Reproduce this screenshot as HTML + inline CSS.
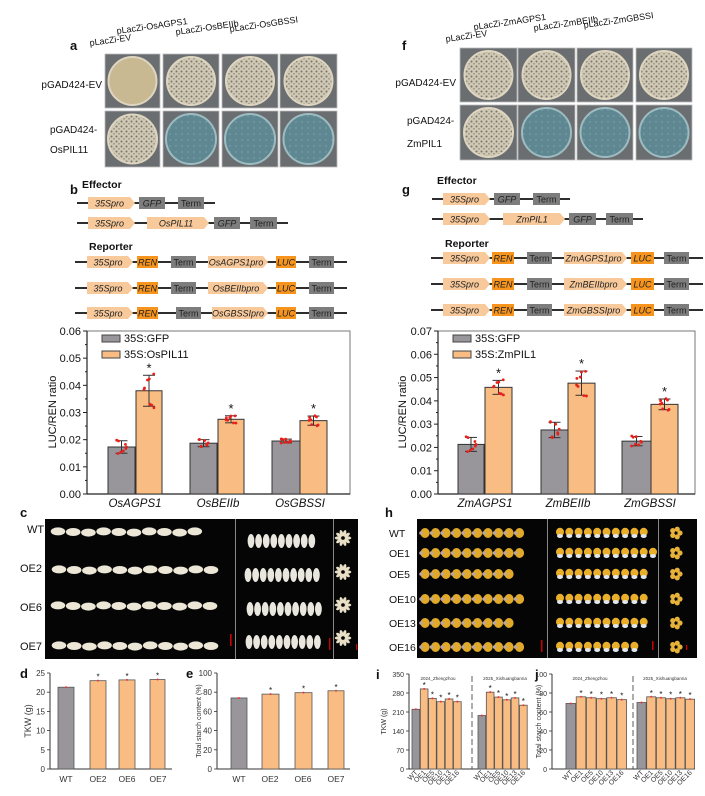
<!DOCTYPE html>
<html><head><meta charset="utf-8"><style>
html,body{margin:0;padding:0;background:#fff;}
svg{display:block;font-family:"Liberation Sans",Arial,sans-serif;}
</style></head><body>
<svg id="s" width="705" height="796" viewBox="0 0 705 796" xmlns="http://www.w3.org/2000/svg">
<defs>
<pattern id="spk" width="5" height="5" patternUnits="userSpaceOnUse">
<rect width="5" height="5" fill="#cfc8b4"/><circle cx="1.5" cy="1.5" r="1" fill="#7a7468"/><circle cx="4" cy="3.8" r="0.8" fill="#8d877a"/></pattern>
<pattern id="spk2" width="5" height="5" patternUnits="userSpaceOnUse">
<rect width="5" height="5" fill="#d4cdb8"/><circle cx="1.5" cy="1.5" r="1.1" fill="#6e685c"/><circle cx="4" cy="3.8" r="0.9" fill="#827c70"/></pattern>
<pattern id="blu" width="6" height="6" patternUnits="userSpaceOnUse">
<rect width="6" height="6" fill="#5f8791"/><circle cx="2" cy="2" r="1" fill="#6f98a2"/></pattern>
</defs>
<g id="g"></g>
</svg>
<script>
const G=document.getElementById('g');const NS='http://www.w3.org/2000/svg';
function el(t,a,txt){const e=document.createElementNS(NS,t);for(const k in a)e.setAttribute(k,a[k]);if(txt!==undefined)e.textContent=txt;G.appendChild(e);return e;}
function T(x,y,s,size,opt={}){return el('text',Object.assign({x:x,y:y,'font-size':size,fill:'#111'},opt),s);}
function L(x1,y1,x2,y2,c='#111',w=1,extra={}){return el('line',Object.assign({x1,y1,x2,y2,stroke:c,'stroke-width':w},extra));}
function R(x,y,w,h,f,extra={}){return el('rect',Object.assign({x,y,width:w,height:h,fill:f},extra));}

// panel labels
[['a',70,50],['b',70,194],['c',20,517],['d',20,678],['e',186,678],['f',402,50],['g',402,194],['h',385,517],['i',376,679],['j',535,679]].forEach(p=>T(p[1],p[2],p[0],13,{'font-weight':'bold'}));

// plates
function plates(cols,rows,blue){
 rows.forEach((r,ri)=>cols.forEach((c,ci)=>{
  const w=c[1]-c[0],h=r[1]-r[0];R(c[0],r[0],w,h,'#6b6e70',{stroke:'#bbb','stroke-width':0.8});
  const cx=(c[0]+c[1])/2,cy=(r[0]+r[1])/2,rad=Math.min(w,h)/2-3;
  let f='url(#spk)';if(ri==1&&ci>0)f='url(#blu)';
  if(blue&&ri==0&&ci==0)f='#c9b993';
  el('circle',{cx,cy,r:rad,fill:f,stroke:(ri==1&&ci>0)?'#9dbcc2':'#ddd5c0','stroke-width':2});
 }));
}
plates([[105,160],[163,219],[222,278],[280,337]],[[54,108],[111,167]],true);
plates([[460,517],[518,575],[577,633],[636,692]],[[48,102],[105,160]],false);
// column labels
function rot(x,y,s,a=-8,size=9){T(x,y,s,size,{transform:`rotate(${a} ${x} ${y})`});}
rot(90,46,'pLacZi-EV');rot(117,34,'pLacZi-OsAGPS1');rot(176,35,'pLacZi-OsBEIIb');rot(230,32,'pLacZi-OsGBSSI');
rot(446,42,'pLacZi-EV');rot(474,30,'pLacZi-ZmAGPS1');rot(534,31,'pLacZi-ZmBEIIb');rot(584,28,'pLacZi-ZmGBSSI');
T(102,88,'pGAD424-EV',10,{'text-anchor':'end'});T(50,133,'pGAD424-',10);T(50,153,'OsPIL11',10);
T(456,86,'pGAD424-EV',10,{'text-anchor':'end'});T(407,124,'pGAD424-',10);T(407,147,'ZmPIL1',10);

// constructs
function box(x1,x2,y,type,txt){
 const h=12,t=y-h/2;
 if(type=='a'){el('polygon',{points:`${x1},${t} ${x2-5},${t} ${x2},${y} ${x2-5},${t+h} ${x1},${t+h}`,fill:'#f8c99a'});}
 else R(x1,t,x2-x1,h,type=='o'?'#f7941d':'#7d7d7d');
 T((x1+x2)/2-(type=='a'?2:0),y+3.5,txt,9,{'text-anchor':'middle','font-style':txt=='Term'?'normal':'italic',fill:'#222'});
}
function constructs(o){
 T(o.ex,o.ey,'Effector',10.5,{'font-weight':'bold'});T(o.rx,o.ry,'Reporter',10.5,{'font-weight':'bold'});
 o.rows.forEach(r=>{L(r.l1,r.y,r.l2,r.y,'#111',1.8);r.b.forEach(b=>box(b[0],b[1],r.y,b[2],b[3]));});
}
constructs({ex:82,ey:188,rx:89,ry:250,rows:[
 {y:203,l1:77,l2:215,b:[[88,135,'a','35Spro'],[139,165,'g','GFP'],[178,204,'g','Term']]},
 {y:223,l1:77,l2:288,b:[[88,135,'a','35Spro'],[147,209,'a','OsPIL11'],[214,240,'g','GFP'],[250,277,'g','Term']]},
 {y:262,l1:75,l2:347,b:[[87,133,'a','35Spro'],[137,158,'o','REN'],[171,196,'g','Term'],[208,268,'a','OsAGPS1pro'],[276,296,'o','LUC'],[309,334,'g','Term']]},
 {y:288,l1:75,l2:347,b:[[87,133,'a','35Spro'],[137,158,'o','REN'],[171,196,'g','Term'],[208,268,'a','OsBEIIbpro'],[276,296,'o','LUC'],[309,334,'g','Term']]},
 {y:313,l1:75,l2:347,b:[[87,133,'a','35Spro'],[137,158,'o','REN'],[176,201,'g','Term'],[212,268,'a','OsGBSSIpro'],[276,296,'o','LUC'],[309,334,'g','Term']]}]});
constructs({ex:437,ey:184,rx:445,ry:247,rows:[
 {y:199,l1:432,l2:570,b:[[443,490,'a','35Spro'],[494,520,'g','GFP'],[533,560,'g','Term']]},
 {y:219,l1:432,l2:643,b:[[443,490,'a','35Spro'],[503,565,'a','ZmPIL1'],[569,596,'g','GFP'],[606,633,'g','Term']]},
 {y:258,l1:431,l2:703,b:[[443,490,'a','35Spro'],[492,514,'o','REN'],[527,552,'g','Term'],[564,627,'a','ZmAGPS1pro'],[631,654,'o','LUC'],[664,689,'g','Term']]},
 {y:284,l1:431,l2:703,b:[[443,490,'a','35Spro'],[492,514,'o','REN'],[527,552,'g','Term'],[564,627,'a','ZmBEIIbpro'],[631,654,'o','LUC'],[664,689,'g','Term']]},
 {y:310,l1:431,l2:703,b:[[443,490,'a','35Spro'],[492,514,'o','REN'],[527,552,'g','Term'],[564,627,'a','ZmGBSSIpro'],[631,654,'o','LUC'],[664,689,'g','Term']]}]});

// LUC charts
const GR='#98969b',OR='#f9bd83';
function luc(o){
 const y0=494,top=331,sc=(y0-top)/o.max;
 R(o.x0,top,o.x1-o.x0,y0-top,'none',{stroke:'#777','stroke-width':1});
 L(o.x0,top,o.x0,y0,'#222',1.2);L(o.x0,y0,o.x1,y0,'#222',1.2);
 for(let v=0;v<=o.max+1e-9;v+=0.01){const y=y0-v*sc;L(o.x0-4,y,o.x0,y,'#222',1);T(o.x0-6,y+4,v.toFixed(2),11,{'text-anchor':'end'});
  if(v+0.005<=o.max){L(o.x0-2,y-0.005*sc,o.x0,y-0.005*sc,'#222',1);}}
 T(o.yl,412,'LUC/REN ratio',11,{'text-anchor':'middle',transform:`rotate(-90 ${o.yl} 412)`});
 R(o.x0+15,335,18,7,GR,{stroke:'#444'});T(o.x0+37,342,'35S:GFP',11);
 R(o.x0+15,351,18,7,OR,{stroke:'#444'});T(o.x0+37,358,o.leg,11);
 o.bars.forEach((b,i)=>{
  const y=y0-b[2]*sc;R(b[0],y,b[1]-b[0],y0-y,i%2?OR:GR,{stroke:'#333','stroke-width':1});
  const cx=(b[0]+b[1])/2,e=b[3]*sc;L(cx,y-e,cx,y+e,'#333',1);L(cx-6,y-e,cx+6,y-e,'#333',1);L(cx-6,y+e,cx+6,y+e,'#333',1);
  for(let k=0;k<8;k++){const dy=(Math.sin(k*2.3+i)*e*1.1),dx=(Math.cos(k*1.7+i)*5);el('circle',{cx:cx+dx,cy:y+dy,r:1.4,fill:'#e8201a'});}
  if(i%2)T(cx,y-e-3,'*',13,{'text-anchor':'middle'});
 });
 o.labels.forEach(l=>T(l[0],507,l[1],11.5,{'text-anchor':'middle','font-style':'italic'}));
}
luc({x0:87,x1:350,max:0.06,yl:56,leg:'35S:OsPIL11',bars:[[108,135,0.0173,0.0023],[136,162,0.038,0.0057],[190,217,0.0187,0.0013],[218,244,0.0275,0.0013],[272,300,0.0195,0.0007],[300,327,0.027,0.0017]],labels:[[135,'OsAGPS1'],[218,'OsBEIIb'],[300,'OsGBSSI']]});
luc({x0:438,x1:695,max:0.07,yl:406,leg:'35S:ZmPIL1',bars:[[458,484,0.0213,0.003],[485,512,0.0458,0.003],[541,568,0.0275,0.0033],[568,595,0.0476,0.0052],[622,651,0.0227,0.002],[651,678,0.0385,0.0023]],labels:[[485,'ZmAGPS1'],[568,'ZmBEIIb'],[650,'ZmGBSSI']]});

// photos c
R(45,519,190,140,'#050505');R(236,519,97,140,'#050505');R(334,519,24,140,'#050505');
L(235.5,519,235.5,659,'#888',1);L(333.5,519,333.5,659,'#888',1);
[['WT',533],['OE2',572],['OE6',611],['OE7',650]].forEach((r,i)=>T(i?20:27,r[1],r[0],11));
[[532,10,58],[570,11,59],[606,11,58],[646,11,59]].forEach(r=>{for(let k=0;k<r[1];k++)el('ellipse',{cx:r[2]+k*15.2,cy:r[0]+(k%3-1)*0.6,rx:7.3,ry:4,fill:'#ece6d6'});});
[[541,9,251],[575,10,248],[609,10,250],[642,10,249]].forEach(r=>{for(let k=0;k<r[1];k++)el('ellipse',{cx:r[2]+k*7.6,cy:r[0],rx:3.4,ry:7,fill:'#e9e6de'});});
[538,572,605,638].forEach(y=>{for(let k=0;k<10;k++){const a=k*Math.PI/5;el('ellipse',{cx:343+Math.cos(a)*5,cy:y+Math.sin(a)*5,rx:3.3,ry:1.6,fill:'#e8dfc6',transform:`rotate(${a*180/Math.PI} ${343+Math.cos(a)*5} ${y+Math.sin(a)*5})`});}});
R(230,634,1.6,12,'#c00');R(329,638,1.4,12,'#c00');R(356,644,1.2,6,'#c00');

// photos h
R(417,519,130,139,'#050505');R(548,519,110,139,'#050505');R(659,519,38,139,'#050505');
L(547.5,519,547.5,658,'#888',1);L(658.5,519,658.5,658,'#888',1);
const hr=[['WT',533],['OE1',553],['OE5',574],['OE10',599],['OE13',623],['OE16',647]];
hr.forEach(r=>T(389,r[1]+4,r[0],10.5));
const hn=[[10,10],[10,11],[9,10],[10,10],[9,10],[10,9]];
hr.forEach((r,i)=>{for(let k=0;k<hn[i][0];k++){el('ellipse',{cx:425+k*10.5,cy:r[1],rx:4.6,ry:5,fill:'#e0a92a'});el('circle',{cx:421+k*10.5,cy:r[1],r:1.8,fill:'#b9a6a8'});}
 for(let k=0;k<hn[i][1];k++){el('ellipse',{cx:560+k*9.3,cy:r[1]-1,rx:4,ry:4.2,fill:'#e9ae2a'});el('ellipse',{cx:560+k*9.3,cy:r[1]+3,rx:3,ry:2,fill:'#dfe6ee'});}
 for(let k=0;k<5;k++){const a=k*Math.PI*2/5;el('circle',{cx:676+Math.cos(a)*4,cy:r[1]+Math.sin(a)*4,r:2.6,fill:'#e6b23a'});}
});
R(541,640,1.5,12,'#c00');R(652,641,1.5,9,'#c00');R(686,645,1.3,5,'#c00');

// small bar charts
function small(o){
 const sc=(o.y0-o.top)/o.max;
 L(o.x0,o.top,o.x0,o.y0,'#333',1);L(o.x0,o.y0,o.x1,o.y0,'#333',1);
 o.ticks.forEach(v=>{const y=o.y0-v*sc;L(o.x0-3,y,o.x0,y,'#333',0.8);T(o.x0-5,y+3,String(v),o.tf,{'text-anchor':'end',fill:'#333'});});
 T(o.yl,(o.top+o.y0)/2,o.ylab,o.yf,{'text-anchor':'middle',transform:`rotate(-90 ${o.yl} ${(o.top+o.y0)/2})`,fill:'#333'});
 o.bars.forEach((b,i)=>{const y=o.y0-b[2]*sc;R(b[0],y,b[1]-b[0],o.y0-y,b[3]?OR:GR,{stroke:'#555','stroke-width':0.8});
  if(b[4])T((b[0]+b[1])/2,y-1,'*',8,{'text-anchor':'middle'});
  el('circle',{cx:(b[0]+b[1])/2,cy:y,r:1,fill:'#e33'});});
}
small({x0:50,x1:172,y0:769,top:673,max:25,ticks:[0,5,10,15,20,25],tf:8,yl:31,ylab:'TKW (g)',yf:9,
 bars:[[58,74,21.3,0],[90,106,23,1,1],[119,135,23.2,1,1],[150,165,23.3,1,1]]});
[['WT',66],['OE2',98],['OE6',127],['OE7',158]].forEach(l=>T(l[1],782,l[0],8.5,{'text-anchor':'middle',fill:'#333'}));
small({x0:217,x1:350,y0:769,top:673,max:100,ticks:[0,20,40,60,80,100],tf:8,yl:201,ylab:'Total starch content (%)',yf:7,
 bars:[[231,247,74,0],[262,279,78,1,1],[295,312,79.5,1,1],[328,344,81.5,1,1]]});
[['WT',239],['OE2',270],['OE6',303],['OE7',336]].forEach(l=>T(l[1],782,l[0],8.5,{'text-anchor':'middle',fill:'#333'}));

const lab6=['WT','OE1','OE5','OE10','OE13','OE16'];
function grp(xs,w,vals){return vals.map((v,i)=>[xs+i*w,xs+i*w+w-0.6,v,i>0,i>0]);}
small({x0:409,x1:530,y0:769,top:674,max:350,ticks:[0,70,140,210,280,350],tf:7,yl:386,ylab:'TKW (g)',yf:7,
 bars:grp(412,8.3,[220,295,260,248,258,248]).concat(grp(478,8.3,[197,283,265,255,262,235]))});
small({x0:552,x1:695,y0:769,top:674,max:100,ticks:[0,20,40,60,80,100],tf:7,yl:541,ylab:'Total starch content (%)',yf:7,
 bars:grp(566,10.2,[69,76,75,74,75,73]).concat(grp(637,9.7,[70,76,75,74,75,73.5]))});
L(472,676,472,769,'#333',0.8,{'stroke-dasharray':'6,3'});L(633,676,633,769,'#333',0.8,{'stroke-dasharray':'6,3'});
T(438,680,'2024_Zhengzhou',4.5,{'text-anchor':'middle',fill:'#333'});T(505,680,'2025_Xishuangbanna',4.5,{'text-anchor':'middle',fill:'#333'});
T(590,680,'2024_Zhengzhou',4.5,{'text-anchor':'middle',fill:'#333'});T(665,680,'2025_Xishuangbanna',4.5,{'text-anchor':'middle',fill:'#333'});
function xl(start,w){lab6.forEach((s,i)=>{const x=start+i*w+w/2+2,y=773;T(x,y,s,7,{'text-anchor':'end',transform:`rotate(-45 ${x} ${y})`,fill:'#333'});});}
xl(412,8.3);xl(478,8.3);xl(566,10.2);xl(637,9.7);
</script>
</body></html>
